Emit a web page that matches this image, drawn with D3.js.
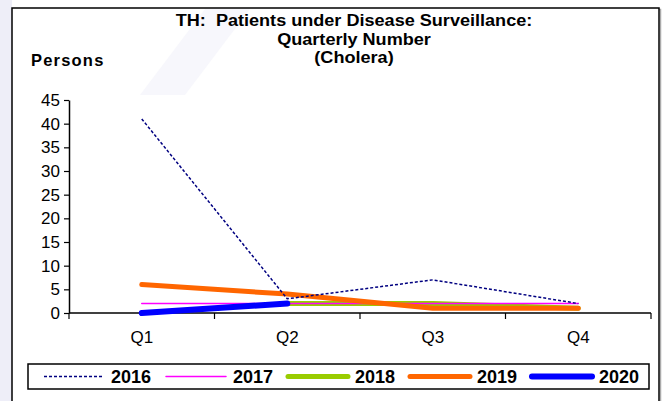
<!DOCTYPE html>
<html>
<head>
<meta charset="utf-8">
<script src="https://cdn.jsdelivr.net/npm/d3@7/dist/d3.min.js"></script>
<style>
  body { margin: 0; background: #fff; }
  text { font-family: "Liberation Sans", Arial, sans-serif; fill: #000; }
</style>
</head>
<body>
<div id="chart"></div>
<script>
var width = 667, height = 401;

// data
var quarters = ["Q1", "Q2", "Q3", "Q4"];
var years = ["2016", "2017", "2018", "2019", "2020"];
var v2016 = [41, 3, 7, 2];
var v2017 = [2, 2, 2, 2];
var v2018 = [null, 2, 2, 1];
var v2019 = [6, 4, 1, 1];
var v2020 = [0, 2, null, null];
var yTicks = [0, 5, 10, 15, 20, 25, 30, 35, 40, 45];
var titleLines = ["TH:  Patients under Disease Surveillance:", "Quarterly Number", "(Cholera)"];

var series = [
  { name: years[0], values: v2016, color: "#000080", w: 1.5, dash: "3,2" },
  { name: years[1], values: v2017, color: "#ff00ff", w: 1.5, dash: null },
  { name: years[2], values: v2018, color: "#99cc00", w: 5, dash: null },
  { name: years[3], values: v2019, color: "#ff6600", w: 5, dash: null },
  { name: years[4], values: v2020, color: "#0000ff", w: 6, dash: null }
];
// drawing order, back to front
var drawOrder = ["2018", "2017", "2019", "2020", "2016"];

var svg = d3.select("#chart").append("svg")
  .attr("width", width)
  .attr("height", height);

// page background and faint watermark
svg.append("rect").attr("width", width).attr("height", height).attr("fill", "#fff");
svg.append("rect").attr("x", 0).attr("y", 0).attr("width", 12).attr("height", height)
  .attr("fill", "#eeeef8");

// chart frame with soft shadow
svg.append("rect")
  .attr("x", 13.5).attr("y", 9.5).attr("width", 647).attr("height", 400)
  .attr("fill", "none").attr("stroke", "#aaa").attr("stroke-width", 1.5);
svg.append("rect")
  .attr("x", 12).attr("y", 8).attr("width", 647).attr("height", 400)
  .attr("fill", "#fff")
  .attr("stroke", "#000").attr("stroke-width", 1.5);
svg.append("path")
  .attr("d", "M205,9 L250,9 L185,95 L140,95 Z")
  .attr("fill", "#f7f7fc");

var x = d3.scaleBand().domain(quarters).range([69, 651]);
var y = d3.scaleLinear().domain([0, 45]).range([313, 100]);

// title, a little stretched sideways like the original
svg.append("g").selectAll("text")
  .data(titleLines)
  .enter().append("text")
    .attr("transform", function(d, i) {
      return "translate(354," + (26 + i * 18.5) + ") scale(1.13,1)";
    })
    .attr("text-anchor", "middle")
    .style("white-space", "pre")
    .style("font-size", "16px")
    .style("font-weight", "bold")
    .text(function(d) { return d; });

svg.append("text")
  .attr("x", 31).attr("y", 66)
  .style("font-size", "16.5px")
  .style("font-weight", "bold")
  .style("letter-spacing", "1.2px")
  .text("Persons");

// axes
var yAxis = svg.append("g")
  .attr("transform", "translate(69,0)")
  .call(d3.axisLeft(y).tickValues(yTicks).tickSize(5).tickSizeOuter(0));
yAxis.select(".domain").attr("stroke", "#000").attr("stroke-width", 1.5);
yAxis.selectAll(".tick line").attr("stroke", "#000").attr("stroke-width", 1.2);
yAxis.selectAll(".tick text")
  .attr("x", -9)
  .style("font-family", "'Liberation Sans', Arial, sans-serif")
  .style("font-size", "17px")
  .attr("fill", "#000");

var boundaries = quarters.map(function(q) { return x(q); }).concat([651]);
svg.append("line")
  .attr("x1", 69).attr("x2", 651).attr("y1", 313).attr("y2", 313)
  .attr("stroke", "#000").attr("stroke-width", 1.5);
svg.append("g").selectAll("line")
  .data(boundaries)
  .enter().append("line")
    .attr("x1", function(d) { return d; })
    .attr("x2", function(d) { return d; })
    .attr("y1", 313).attr("y2", 319)
    .attr("stroke", "#000").attr("stroke-width", 1.2);
svg.append("g").selectAll("text")
  .data(quarters)
  .enter().append("text")
    .attr("x", function(d) { return x(d) + x.bandwidth() / 2; })
    .attr("y", 343)
    .attr("text-anchor", "middle")
    .style("font-size", "17px")
    .text(function(d) { return d; });

// lines
var line = d3.line()
  .defined(function(d) { return d.v != null; })
  .x(function(d) { return x(d.q) + x.bandwidth() / 2; })
  .y(function(d) { return y(d.v); });

drawOrder.forEach(function(name) {
  var s = series.filter(function(d) { return d.name === name; })[0];
  var pts = quarters.map(function(q, i) { return { q: q, v: s.values[i] }; });
  svg.append("path")
    .datum(pts)
    .attr("fill", "none")
    .attr("stroke", s.color)
    .attr("stroke-width", s.w)
    .attr("stroke-linecap", s.dash ? "butt" : "round")
    .attr("stroke-linejoin", "round")
    .attr("stroke-dasharray", s.dash)
    .attr("d", line);
});

// legend
svg.append("rect")
  .attr("x", 28).attr("y", 364).attr("width", 621).attr("height", 25)
  .attr("fill", "#fff").attr("stroke", "#000").attr("stroke-width", 1.5);

var legendX = [44, 166, 288, 410, 532];
var legend = svg.append("g").selectAll("g")
  .data(series)
  .enter().append("g")
    .attr("transform", function(d, i) { return "translate(" + legendX[i] + ",376.5)"; });

legend.append("line")
  .attr("x1", 0).attr("x2", 60)
  .attr("stroke", function(d) { return d.color; })
  .attr("stroke-width", function(d) { return d.w; })
  .attr("stroke-linecap", function(d) { return d.dash ? "butt" : "round"; })
  .attr("stroke-dasharray", function(d) { return d.dash; });

legend.append("text")
  .attr("x", 67)
  .attr("y", 6.5)
  .style("font-size", "18px")
  .style("font-weight", "bold")
  .text(function(d) { return d.name; });
</script>
</body>
</html>
